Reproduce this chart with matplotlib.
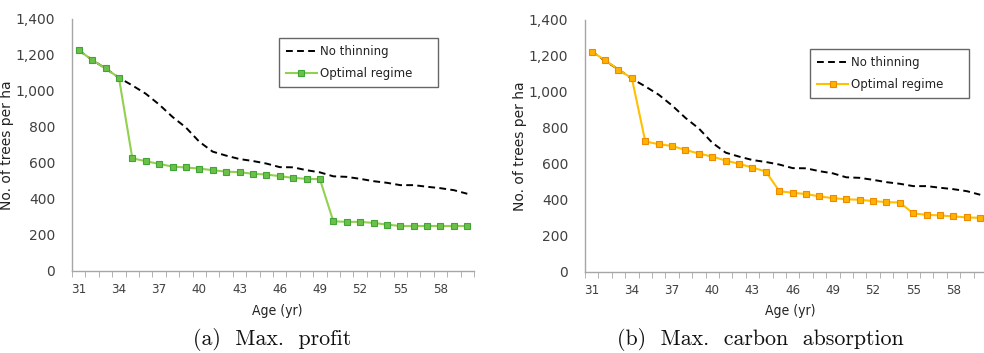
"""Number of trees per ha under no thinning vs. optimal regime."""
from matplotlib import pyplot as plt
from matplotlib.ticker import FixedLocator, FuncFormatter, NullFormatter

ages = list(range(31, 61))

no_thinning = [1226, 1173, 1125, 1074, 1031, 985, 925, 856, 797, 718,
               663, 641, 622, 611, 597, 577, 576, 560, 548, 526,
               523, 512, 499, 490, 477, 477, 468, 460, 449, 429]

profit_regime = [1226, 1173, 1125, 1074, 626, 610, 595, 580, 575, 569,
                 560, 552, 549, 540, 536, 527, 517, 512, 510, 276,
                 273, 273, 267, 258, 250, 250, 250, 250, 250, 250]

carbon_regime = [1224, 1177, 1124, 1076, 725, 710, 700, 678, 658, 641,
                 619, 601, 580, 558, 449, 440, 433, 420, 410, 404,
                 401, 394, 388, 386, 325, 318, 314, 309, 303, 301]

captions = ['(a)  Max.  profit', '(b)  Max.  carbon  absorption']
series_labels = ['No thinning', 'Optimal regime']

AXIS_GRAY = '#a6a6a6'
TEXT = '#404040'
NARROW = dict(family='DejaVu Sans', stretch='condensed')


def draw_panel(ax, regime, line_color, face_color, edge_color, legend_box):
    x = range(len(ages))
    ax.plot(x, no_thinning, color='black', linestyle=(0, (3.5, 2.2)),
            linewidth=1.4, label=series_labels[0], zorder=2)
    ax.plot(x, regime, color=line_color, linewidth=1.5, marker='s',
            markersize=4.6, markerfacecolor=face_color,
            markeredgecolor=edge_color, markeredgewidth=0.8,
            label=series_labels[1], zorder=3)
    ax.set_xlim(-0.5, len(ages) - 0.5)
    ax.set_ylim(0, 1400)
    ax.set_yticks(range(0, 1401, 200))
    ax.yaxis.set_major_formatter(FuncFormatter(lambda v, p: f'{int(v):,}'))
    ax.tick_params(axis='y', length=0, labelsize=10, labelcolor=TEXT, pad=12)

    # Excel-style category axis: tick marks between categories,
    # labels every third category
    ax.xaxis.set_minor_locator(FixedLocator([i - 0.5 for i in range(len(ages) + 1)]))
    ax.xaxis.set_minor_formatter(NullFormatter())
    ax.set_xticks(range(0, len(ages), 3))
    ax.set_xticklabels([str(a) for a in ages[::3]], **NARROW)
    ax.tick_params(axis='x', which='major', length=0, labelsize=9.5,
                   labelcolor=TEXT, pad=9)
    ax.tick_params(axis='x', which='minor', length=4, color=AXIS_GRAY,
                   direction='out')

    for side in ('top', 'right'):
        ax.spines[side].set_visible(False)
    for side in ('left', 'bottom'):
        ax.spines[side].set_color(AXIS_GRAY)
        ax.spines[side].set_linewidth(1.0)

    ax.set_ylabel('No. of trees per ha', fontsize=10, color='#222222')
    ax.yaxis.set_label_coords(-0.144, 0.5)

    leg = ax.legend(loc='upper left', bbox_to_anchor=legend_box,
                    mode='expand', fontsize=8.5, frameon=True, fancybox=False,
                    edgecolor='#404040', handlelength=2.6, borderpad=0.6,
                    labelspacing=0.75, handletextpad=0.3, borderaxespad=0)
    leg.get_frame().set_linewidth(1.0)
    for t in leg.get_texts():
        t.set_color('#222222')


fig = plt.figure(figsize=(9.84, 3.53), dpi=100)

ax1 = fig.add_axes([0.0732, 0.2323, 0.4085, 0.7139])
draw_panel(ax1, profit_regime, '#92d050', '#6cc04a', '#3fa535',
           (0.515, 0.925, 0.395, 0.0))

ax2 = fig.add_axes([0.5945, 0.2295, 0.4085, 0.7139])
draw_panel(ax2, carbon_regime, '#ffc000', '#ffb300', '#ee8a00',
           (0.56, 0.885, 0.395, 0.0))

for ax in (ax1, ax2):
    pos = ax.get_position()
    cx = pos.x0 + pos.width / 2 + 0.004
    fig.text(cx, 0.118, 'Age (yr)', ha='center', va='center', fontsize=10,
             color='#222222', **NARROW)

fig.text(0.2765, 0.037, captions[0], ha='center', va='center', fontsize=15.8,
         family='cmr10', color='#111111')
fig.text(0.773, 0.037, captions[1], ha='center', va='center', fontsize=15.8,
         family='cmr10', color='#111111')

fig.savefig('out.png', dpi=100)
